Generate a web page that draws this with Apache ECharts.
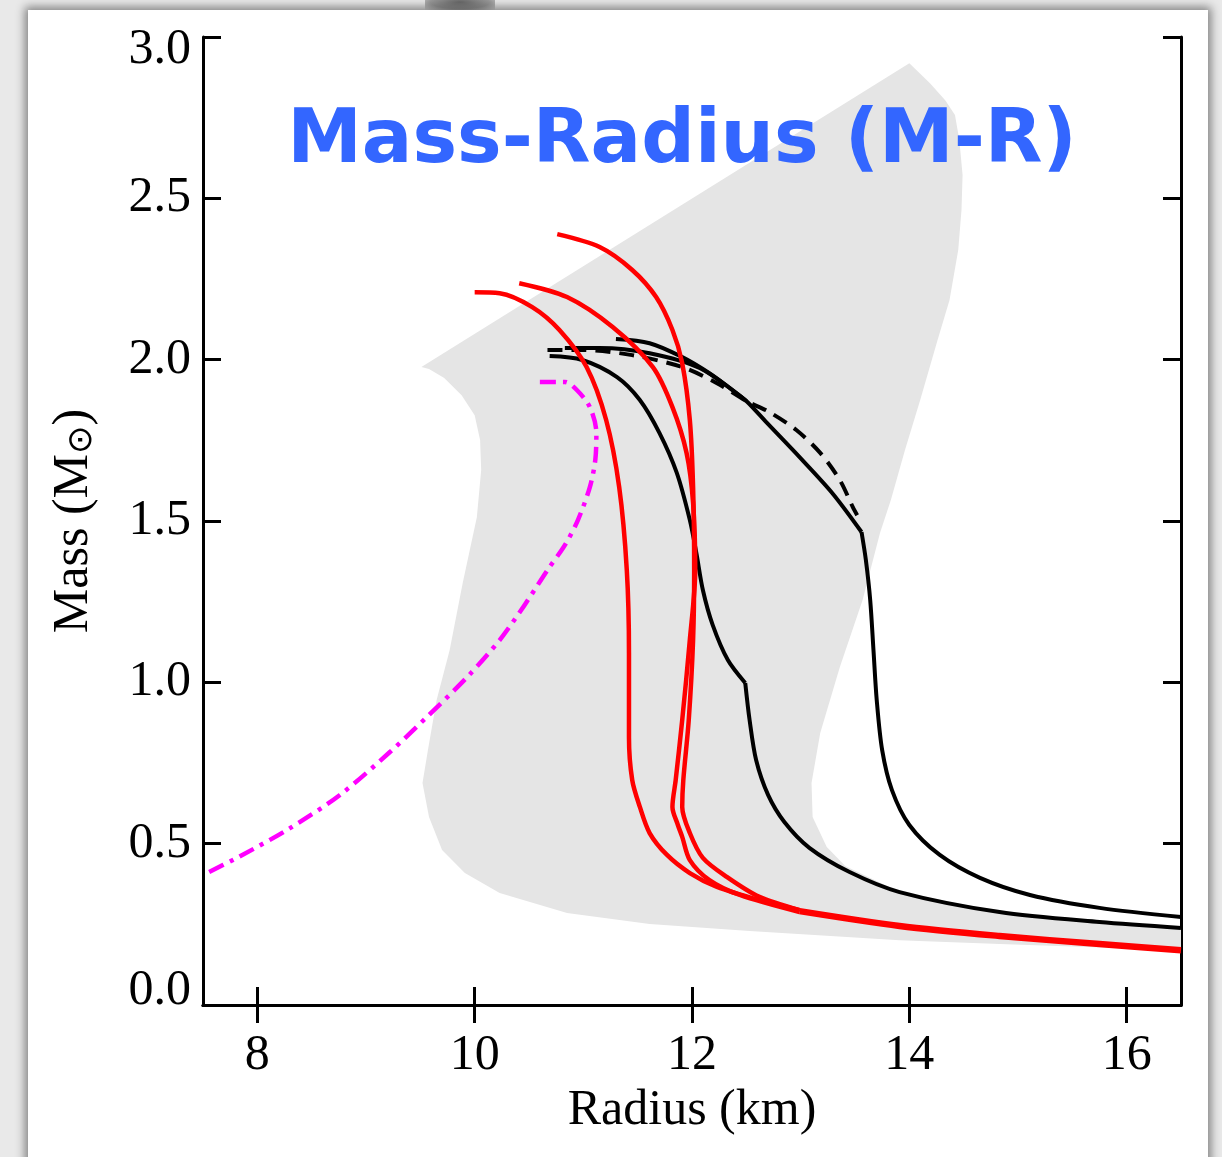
<!DOCTYPE html>
<html>
<head>
<meta charset="utf-8">
<script src="https://cdn.jsdelivr.net/npm/echarts@6/dist/echarts.min.js"></script>
<style>
  html, body { margin: 0; padding: 0; width: 1222px; height: 1157px; overflow: hidden; background: #e9e9e9; }
  #frame {
    position: absolute; left: 28px; top: 10px; width: 1180px; height: 1160px;
    background: #fff; box-shadow: 0 0 9px 3px rgba(0,0,0,0.45);
  }
  #bump {
    position: absolute; left: 425px; top: -6px; width: 70px; height: 16px;
    background: radial-gradient(ellipse at center, #6a6a6a 0%, #9a9a9a 60%, rgba(200,200,200,0) 100%);
  }
  #chart { width: 1180px; height: 1147px; }
</style>
</head>
<body>
<div id="bump"></div>
<div id="frame"><div id="chart"></div></div>
<script>
// radius (km), mass (Msun) pairs
const xTicks = [8, 10, 12, 14, 16];

const shadeOutline = [
  [9.51, 1.977], [14.00, 2.919], [14.19, 2.857], [14.33, 2.804], [14.42, 2.758],
  [14.46, 2.681], [14.49, 2.572], [14.48, 2.464], [14.45, 2.340], [14.37, 2.185],
  [14.26, 2.061], [14.10, 1.875], [13.96, 1.720], [13.83, 1.565], [13.73, 1.463],
  [13.57, 1.255], [13.36, 1.047], [13.18, 0.843], [13.10, 0.688], [13.11, 0.583],
  [13.24, 0.490], [13.41, 0.431], [13.91, 0.350], [14.83, 0.288], [15.75, 0.257],
  [16.5, 0.239], [16.5, 0.170], [14.83, 0.189], [13.91, 0.201], [12.53, 0.229],
  [11.61, 0.251], [10.85, 0.285], [10.23, 0.347], [9.91, 0.409], [9.70, 0.480],
  [9.58, 0.583], [9.52, 0.688], [9.57, 0.790], [9.65, 0.945], [9.77, 1.100],
  [9.89, 1.308], [10.02, 1.512], [10.06, 1.658], [10.05, 1.751], [10.00, 1.828],
  [9.88, 1.890], [9.72, 1.943], [9.58, 1.971]
];

const redTail = [[12.99, 0.291], [13.91, 0.245], [14.83, 0.214], [15.75, 0.189], [16.5, 0.170]];

const redA = [
  [10.00, 2.209], [10.23, 2.206], [10.53, 2.163], [10.78, 2.092], [11.03, 1.977],
  [11.21, 1.813], [11.33, 1.605], [11.40, 1.348], [11.42, 1.091], [11.42, 0.830],
  [11.45, 0.697], [11.52, 0.614], [11.61, 0.533], [11.77, 0.465], [11.98, 0.409],
  [12.23, 0.366], [12.62, 0.325], [12.99, 0.294]
];

const redB = [
  [10.41, 2.237], [10.85, 2.194], [11.27, 2.101], [11.64, 1.977], [11.82, 1.853],
  [11.95, 1.711], [12.01, 1.556], [12.03, 1.348], [11.98, 1.131], [11.91, 0.883],
  [11.85, 0.697], [11.82, 0.614], [11.87, 0.558], [11.91, 0.521], [11.98, 0.449],
  [12.16, 0.387], [12.44, 0.341], [12.99, 0.288]
];

const redC = [
  [10.76, 2.389], [11.15, 2.349], [11.45, 2.278], [11.67, 2.194], [11.82, 2.092],
  [11.91, 1.989], [11.98, 1.813], [12.01, 1.605], [12.02, 1.348], [12.01, 1.131],
  [11.97, 0.883], [11.92, 0.697], [11.91, 0.614], [11.98, 0.533], [12.10, 0.456],
  [12.32, 0.397], [12.62, 0.335], [12.99, 0.294]
];

const blackA = [
  [10.69, 2.011], [10.99, 1.999], [11.31, 1.946], [11.52, 1.875], [11.70, 1.773],
  [11.86, 1.649], [11.98, 1.503], [12.04, 1.401], [12.10, 1.286], [12.19, 1.178],
  [12.33, 1.069], [12.49, 0.998], [12.53, 0.883], [12.59, 0.759], [12.70, 0.651],
  [12.85, 0.567], [13.08, 0.487], [13.45, 0.412], [13.91, 0.350], [14.83, 0.288],
  [15.75, 0.257], [16.5, 0.239]
];

const blackB = [
  [11.30, 2.064], [11.61, 2.051], [11.91, 2.008], [12.16, 1.958], [12.37, 1.906],
  [12.50, 1.872], [12.69, 1.804], [12.99, 1.698], [13.29, 1.587], [13.56, 1.466],
  [13.60, 1.379], [13.64, 1.255], [13.67, 1.100], [13.70, 0.945], [13.75, 0.790],
  [13.84, 0.666], [14.00, 0.558], [14.28, 0.465], [14.65, 0.394], [15.11, 0.341],
  [15.75, 0.301], [16.5, 0.273]
];

const blackC = [
  [10.83, 2.036], [11.15, 2.036], [11.61, 2.020], [12.07, 1.974], [12.50, 1.872]
];

const blackDashed = [
  [10.67, 2.030], [10.99, 2.030], [11.45, 2.014], [11.91, 1.977], [12.23, 1.927],
  [12.50, 1.872], [12.71, 1.838], [12.96, 1.782], [13.18, 1.711], [13.36, 1.627],
  [13.48, 1.543], [13.52, 1.518]
];

const magenta = [
  [10.60, 1.931], [10.83, 1.931], [10.94, 1.906], [11.06, 1.853], [11.12, 1.773],
  [11.11, 1.689], [11.06, 1.605], [10.95, 1.503], [10.83, 1.425], [10.67, 1.348],
  [10.46, 1.240], [10.23, 1.131], [9.95, 1.023], [9.58, 0.899], [9.22, 0.784],
  [8.76, 0.651], [8.30, 0.548], [7.83, 0.459], [7.5, 0.403]
];

const serif = '"Liberation Serif", "DejaVu Serif", serif';

const chart = echarts.init(document.getElementById('chart'));

function curve(data, color, width, type) {
  return {
    type: 'line',
    data: data,
    showSymbol: false,
    silent: true,
    smooth: 0.3,
    z: 3,
    lineStyle: { color: color, width: width, type: type || 'solid', cap: 'butt', join: 'miter' }
  };
}

const axisBox = { lineStyle: { color: '#000', width: 3 } };
const tickIn = { show: true, inside: true, length: 18, lineStyle: { color: '#000', width: 3 } };
const labelFont = { fontFamily: serif, fontSize: 50, color: '#000' };

const option = {
  animation: false,
  backgroundColor: '#fff',
  grid: { left: 175, top: 27, width: 978, height: 968 },
  xAxis: [
    {
      type: 'value', min: 7.5, max: 16.5, position: 'bottom',
      axisLine: axisBox,
      axisTick: Object.assign({ customValues: xTicks }, tickIn),
      axisLabel: { customValues: xTicks, color: '#000', fontFamily: serif, fontSize: 50, margin: 26 },
      splitLine: { show: false },
      name: 'Radius (km)', nameLocation: 'middle', nameGap: 80,
      nameTextStyle: { color: '#000', fontFamily: serif, fontSize: 50 }
    },
    {
      type: 'value', min: 7.5, max: 16.5, position: 'top',
      axisLine: axisBox,
      axisTick: Object.assign({ customValues: xTicks }, tickIn),
      axisLabel: { show: false },
      splitLine: { show: false }
    }
  ],
  yAxis: [
    {
      type: 'value', min: 0, max: 3, interval: 0.5, position: 'left',
      axisLine: Object.assign({ show: true }, axisBox),
      axisTick: tickIn,
      axisLabel: {
        color: '#000', fontFamily: serif, fontSize: 50, margin: 12,
        // end labels sit a little inside the frame, as in the original
        formatter: v => v === 3 ? '{hi|' + v.toFixed(1) + '}' : v === 0 ? '{lo|' + v.toFixed(1) + '}' : v.toFixed(1),
        rich: {
          hi: Object.assign({ padding: [26, 0, 0, 0] }, labelFont),
          lo: Object.assign({ padding: [0, 0, 28, 0] }, labelFont)
        }
      },
      splitLine: { show: false },
      name: 'Mass (M{s|⊙})', nameLocation: 'middle', nameGap: 104,
      nameTextStyle: {
        color: '#000', fontFamily: serif, fontSize: 50,
        rich: { s: { fontFamily: '"DejaVu Sans", sans-serif', fontSize: 34, color: '#000', verticalAlign: 'bottom', padding: [16, 0, 0, 0] } }
      }
    },
    {
      type: 'value', min: 0, max: 3, interval: 0.5, position: 'right',
      axisLine: Object.assign({ show: true }, axisBox),
      axisTick: tickIn,
      axisLabel: { show: false },
      splitLine: { show: false }
    }
  ],
  graphic: [
    {
      type: 'text', x: 654, y: 133, z: 100,
      style: {
        text: 'Mass-Radius (M-R)', fill: '#3366ff',
        font: 'bold 75px "DejaVu Sans", sans-serif',
        align: 'center', verticalAlign: 'middle'
      }
    }
  ],
  series: [
    {
      type: 'custom',
      silent: true,
      z: 1,
      data: [shadeOutline[0]],
      renderItem: function (params, api) {
        return {
          type: 'polygon',
          shape: { points: shadeOutline.map(p => api.coord(p)) },
          style: { fill: '#e5e5e5' }
        };
      }
    },
    curve(magenta, '#ff00ff', 4.5, [16, 7, 4, 7]),
    // black curves are split at their kinks so smoothing keeps the corners
    curve(blackA.slice(0, 12), '#000', 4),
    curve(blackA.slice(11), '#000', 4),
    curve(blackB.slice(0, 10), '#000', 4),
    curve(blackB.slice(9), '#000', 4),
    curve(blackC, '#000', 4),
    curve(blackDashed, '#000', 4, [15, 9]),
    curve(redA, '#ff0000', 4.5),
    curve(redB, '#ff0000', 4.5),
    curve(redC, '#ff0000', 4.5),
    // the three red tails overlap into one thicker band
    curve(redTail, '#ff0000', 6.5)
  ]
};

chart.setOption(option);
</script>
</body>
</html>
